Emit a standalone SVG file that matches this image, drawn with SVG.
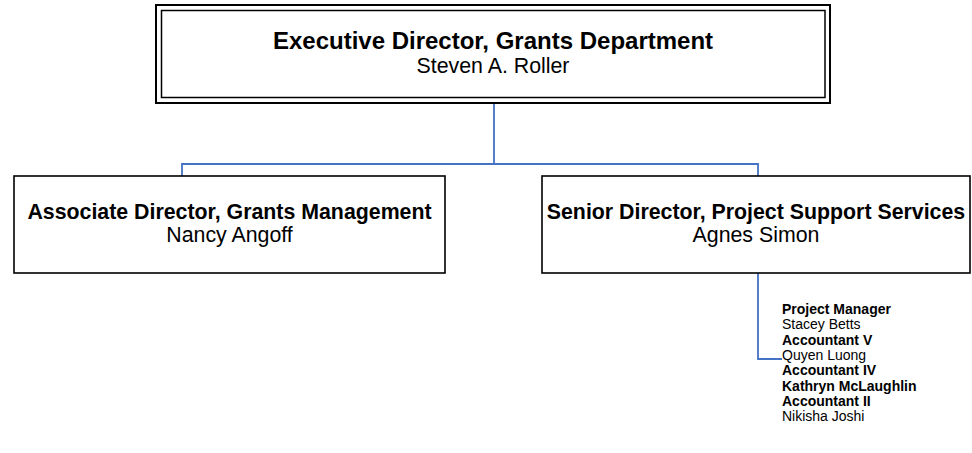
<svg xmlns="http://www.w3.org/2000/svg" width="972" height="453" viewBox="0 0 972 453">
<style>
.box{fill:#fff;stroke:#000;stroke-width:1.6}
.conn{fill:none;stroke:#4472C4;stroke-width:1.8}
text{font-family:"Liberation Sans",Arial,sans-serif;fill:#000}
.t{font-weight:bold;font-size:21.33px;text-anchor:middle}
.n{font-size:21.33px;text-anchor:middle}
.l{font-size:14px}
.lb{font-size:14px;font-weight:bold}
</style>
<rect width="972" height="453" fill="#fff"/>
<g id="connectors">
<path class="conn" d="M494 103 V164 M182 176 V164 H758 V176"/>
<path class="conn" d="M758 273 V359 H782"/>
</g>
<g id="exec">
<rect x="156" y="5" width="674" height="98" fill="#fff" stroke="#000" stroke-width="2"/>
<rect x="161.5" y="10.5" width="663.5" height="87" fill="none" stroke="#000" stroke-width="1.5"/>
<text x="493" y="49" style="font-weight:bold;font-size:24px;text-anchor:middle">Executive Director, Grants Department</text>
<text x="493" y="73" class="n">Steven A. Roller</text>
</g>
<g id="assoc">
<rect class="box" x="14" y="176" width="431" height="97"/>
<text x="229.5" y="219" class="t">Associate Director, Grants Management</text>
<text x="229.5" y="242" class="n">Nancy Angoff</text>
</g>
<g id="senior">
<rect class="box" x="542" y="176" width="428" height="97"/>
<text x="756" y="219" class="t">Senior Director, Project Support Services</text>
<text x="756" y="242" class="n">Agnes Simon</text>
</g>
<g id="staff">
<text x="782" y="314" class="lb">Project Manager</text>
<text x="782" y="329.3" class="l">Stacey Betts</text>
<text x="782" y="344.6" class="lb">Accountant V</text>
<text x="782" y="359.9" class="l">Quyen Luong</text>
<text x="782" y="375.2" class="lb">Accountant IV</text>
<text x="782" y="390.5" class="lb">Kathryn McLaughlin</text>
<text x="782" y="405.8" class="lb">Accountant II</text>
<text x="782" y="421.1" class="l">Nikisha Joshi</text>
</g>
</svg>
